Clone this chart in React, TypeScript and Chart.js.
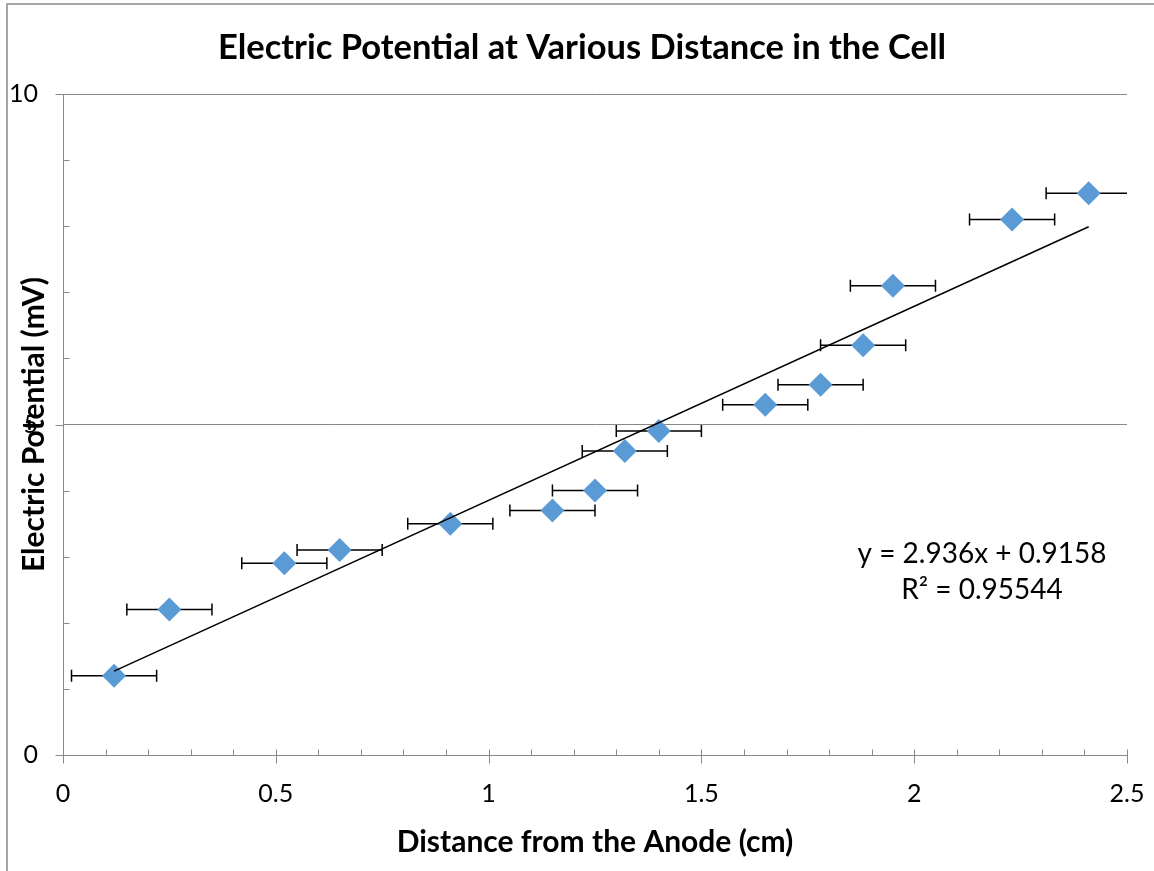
import { useEffect, useRef } from 'react';
import { Chart, registerables } from 'chart.js';

Chart.register(...registerables);

const TITLE = 'Electric Potential at Various Distance in the Cell';
const X_TITLE = 'Distance from the Anode (cm)';
const Y_TITLE = 'Electric Potential (mV)';
const EQUATION = 'y = 2.936x + 0.9158';
const R_SQUARED = 'R² = 0.95544';

const X_VALUES = [0.12, 0.25, 0.52, 0.65, 0.91, 1.15, 1.25, 1.32, 1.4, 1.65, 1.78, 1.88, 1.95, 2.23, 2.41];
const Y_VALUES = [1.2, 2.2, 2.9, 3.1, 3.5, 3.7, 4.0, 4.6, 4.9, 5.3, 5.6, 6.2, 7.1, 8.1, 8.5];
const X_ERRORS = [0.1, 0.1, 0.1, 0.1, 0.1, 0.1, 0.1, 0.1, 0.1, 0.1, 0.1, 0.1, 0.1, 0.1, 0.1];

const TREND_X = [0.12, 2.41];
const TREND_Y = [1.268, 7.992];

const X_MAJOR_TICKS = [0, 0.5, 1, 1.5, 2, 2.5];
const X_MINOR_TICKS = [0.1, 0.2, 0.3, 0.4, 0.6, 0.7, 0.8, 0.9, 1.1, 1.2, 1.3, 1.4, 1.6, 1.7, 1.8, 1.9, 2.1, 2.2, 2.3, 2.4];
const Y_MAJOR_TICKS = [0, 5, 10];
const Y_MINOR_TICKS = [1, 2, 3, 4, 6, 7, 8, 9];

const FONT = 'Lato, "Open Sans", sans-serif';
const AXIS_GRAY = '#888888';

const decorPlugin = {
  id: 'decor',
  beforeDraw(chart: any) {
    const ctx = chart.ctx;
    ctx.save();
    ctx.fillStyle = '#ffffff';
    ctx.fillRect(0, 0, chart.width, chart.height);
    ctx.strokeStyle = '#a6a6a6';
    ctx.lineWidth = 2;
    ctx.strokeRect(7, 4, chart.width + 50, chart.height + 50);
    ctx.restore();
  },
  beforeDatasetsDraw(chart: any) {
    const ctx = chart.ctx;
    const xs = chart.scales.x;
    const ys = chart.scales.y;
    const area = chart.chartArea;
    ctx.save();
    ctx.beginPath();
    ctx.rect(area.left, area.top - 20, area.right - area.left, area.bottom - area.top + 40);
    ctx.clip();
    ctx.strokeStyle = '#000000';
    ctx.lineWidth = 1.5;
    for (let i = 0; i < X_VALUES.length; i++) {
      const y = ys.getPixelForValue(Y_VALUES[i]);
      const x1 = xs.getPixelForValue(X_VALUES[i] - X_ERRORS[i]);
      const x2 = xs.getPixelForValue(X_VALUES[i] + X_ERRORS[i]);
      ctx.beginPath();
      ctx.moveTo(x1, y);
      ctx.lineTo(x2, y);
      ctx.moveTo(x1, y - 6);
      ctx.lineTo(x1, y + 6);
      ctx.moveTo(x2, y - 6);
      ctx.lineTo(x2, y + 6);
      ctx.stroke();
    }
    ctx.restore();
  },
  afterDraw(chart: any) {
    const ctx = chart.ctx;
    const xs = chart.scales.x;
    const ys = chart.scales.y;
    const area = chart.chartArea;
    ctx.save();
    ctx.strokeStyle = AXIS_GRAY;
    ctx.lineWidth = 1;
    ctx.beginPath();
    const bottom = Math.round(area.bottom) + 0.5;
    const left = Math.round(area.left) + 0.5;
    X_MAJOR_TICKS.forEach((v) => {
      const x = Math.round(xs.getPixelForValue(v)) + 0.5;
      ctx.moveTo(x, bottom - 6);
      ctx.lineTo(x, bottom + 8);
    });
    X_MINOR_TICKS.forEach((v) => {
      const x = Math.round(xs.getPixelForValue(v)) + 0.5;
      ctx.moveTo(x, bottom - 6);
      ctx.lineTo(x, bottom);
    });
    Y_MAJOR_TICKS.forEach((v) => {
      const y = Math.round(ys.getPixelForValue(v)) + 0.5;
      ctx.moveTo(left - 8, y);
      ctx.lineTo(left, y);
    });
    Y_MINOR_TICKS.forEach((v) => {
      const y = Math.round(ys.getPixelForValue(v)) + 0.5;
      ctx.moveTo(left, y);
      ctx.lineTo(left + 6, y);
    });
    ctx.stroke();

    ctx.fillStyle = '#000000';
    ctx.textAlign = 'center';
    ctx.textBaseline = 'middle';
    ctx.font = `bold 34.5px ${FONT}`;
    ctx.fillText(TITLE, 582, 48);

    ctx.font = `28px ${FONT}`;
    ctx.fillText(EQUATION, 982, 554);
    ctx.fillText(R_SQUARED, 982, 590);
    ctx.restore();
  },
};

export default function App() {
  const canvasRef = useRef<HTMLCanvasElement | null>(null);

  useEffect(() => {
    const canvas = canvasRef.current;
    if (!canvas) return;
    const chart = new Chart(canvas, {
      type: 'scatter',
      data: {
        datasets: [
          {
            type: 'line',
            label: 'Linear trend',
            data: TREND_X.map((x, i) => ({ x, y: TREND_Y[i] })),
            borderColor: '#000000',
            borderWidth: 1.5,
            pointRadius: 0,
            fill: false,
            tension: 0,
          },
          {
            type: 'scatter',
            label: 'Electric Potential',
            data: X_VALUES.map((x, i) => ({ x, y: Y_VALUES[i] })),
            backgroundColor: '#5B9BD5',
            borderColor: '#5B9BD5',
            borderWidth: 0,
            pointStyle: 'rectRot',
            pointRadius: 12,
          },
        ],
      },
      options: {
        responsive: false,
        animation: false,
        devicePixelRatio: 1,
        layout: { padding: { left: 0, right: 27, top: 94, bottom: 0 } },
        plugins: {
          legend: { display: false },
          title: { display: false },
          tooltip: { enabled: false },
        },
        scales: {
          x: {
            type: 'linear',
            min: 0,
            max: 2.5,
            afterFit: (scale: any) => {
              scale.height = 116;
              scale.paddingLeft = 0;
              scale.paddingRight = 0;
            },
            ticks: {
              stepSize: 0.5,
              color: '#000000',
              padding: 24,
              font: { family: FONT, size: 25 },
              callback: (v: any) => `${Number(v)}`,
            },
            grid: { display: false, drawTicks: false },
            border: { display: true, color: AXIS_GRAY, width: 1 },
            title: {
              display: true,
              text: X_TITLE,
              color: '#000000',
              font: { family: FONT, size: 30, weight: 'bold', lineHeight: 1 },
              padding: { top: 0, bottom: 14 },
            },
          },
          y: {
            type: 'linear',
            min: 0,
            max: 10,
            afterFit: (scale: any) => {
              scale.width = 63;
              scale.paddingTop = 0;
              scale.paddingBottom = 0;
            },
            ticks: {
              stepSize: 5,
              color: '#000000',
              padding: 25,
              font: { family: FONT, size: 25 },
              callback: (v: any) => `${Number(v)}`,
            },
            grid: { display: true, drawTicks: false, color: AXIS_GRAY, lineWidth: 1 },
            border: { display: true, color: AXIS_GRAY, width: 1 },
            title: {
              display: true,
              text: Y_TITLE,
              color: '#000000',
              font: { family: FONT, size: 30, weight: 'bold', lineHeight: 1 },
              padding: { top: 19, bottom: 0 },
            },
          },
        },
      },
      plugins: [decorPlugin],
    });
    return () => chart.destroy();
  }, []);

  return (
    <div style={{ position: 'fixed', left: 0, top: 0, width: 1154, height: 871, background: '#ffffff' }}>
      <canvas ref={canvasRef} width={1154} height={871} style={{ display: 'block' }} />
    </div>
  );
}
